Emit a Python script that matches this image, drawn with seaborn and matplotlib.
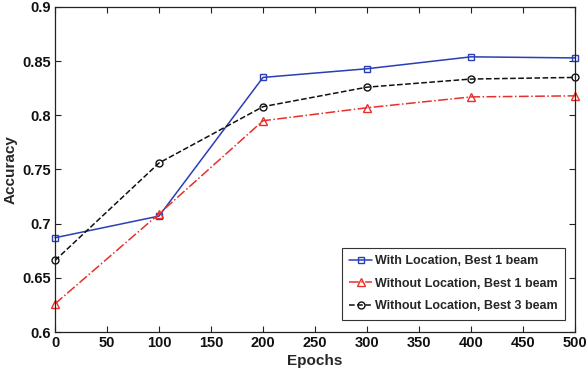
import matplotlib
matplotlib.use("Agg")
import matplotlib.pyplot as plt
import seaborn as sns
import pandas as pd

epochs = [0, 100, 200, 300, 400, 500]
with_loc_best1 = [0.687, 0.707, 0.835, 0.843, 0.854, 0.853]
without_loc_best1 = [0.626, 0.709, 0.795, 0.807, 0.817, 0.818]
without_loc_best3 = [0.666, 0.756, 0.808, 0.826, 0.8335, 0.835]
series_names = ["With Location, Best 1 beam",
                "Without Location, Best 1 beam",
                "Without Location, Best 3 beam"]

sns.set_style("ticks")
plt.rcParams['font.family'] = ['Liberation Sans', 'DejaVu Sans']
plt.rcParams['font.weight'] = 'bold'

fig = plt.figure(figsize=(5.86, 3.76), dpi=100)
ax = fig.add_axes([55/586, 1-332/376, 520/586, 325/376])

styles = [
    dict(color="#2a3fb5", marker="s", linestyle="-", ms=4.0),
    dict(color="#e8302a", marker="^", linestyle="-.", ms=5.5),
    dict(color="#111111", marker="o", linestyle="--", ms=5.0),
]
data = [with_loc_best1, without_loc_best1, without_loc_best3]
for name, vals, st in zip(series_names, data, styles):
    df = pd.DataFrame({"Epochs": epochs, "Accuracy": vals})
    sns.lineplot(data=df, x="Epochs", y="Accuracy", ax=ax, label=name,
                 color=st["color"], marker=st["marker"], linestyle=st["linestyle"],
                 markersize=st["ms"], markerfacecolor="none", markeredgecolor=st["color"],
                 markeredgewidth=1.0, linewidth=1.1, clip_on=False)

ax.set_xlim(0, 500)
ax.set_ylim(0.6, 0.9)
ax.set_xticks([0, 50, 100, 150, 200, 250, 300, 350, 400, 450, 500])
ax.set_yticks([0.6, 0.65, 0.7, 0.75, 0.8, 0.85, 0.9])
ax.set_yticklabels(["0.6", "0.65", "0.7", "0.75", "0.8", "0.85", "0.9"])
ax.tick_params(direction="in", top=True, right=True, length=4, width=0.8,
               labelsize=10.5, pad=3, colors="#222222", labelcolor="#111111")
for lab in ax.get_xticklabels() + ax.get_yticklabels():
    lab.set_fontweight("bold")
for s in ax.spines.values():
    s.set_linewidth(0.9)
    s.set_color("#222222")
ax.set_xlabel("Epochs", fontsize=11, fontweight="bold", labelpad=3)
ax.set_ylabel("Accuracy", fontsize=11, fontweight="bold", labelpad=3)

leg = ax.legend(loc="lower right", bbox_to_anchor=(0.981, 0.037), fancybox=False,
                framealpha=1, edgecolor="#333333",
                handlelength=1.85, handletextpad=0.2, borderpad=0.6,
                borderaxespad=0, labelspacing=0.85,
                prop={"weight": "bold", "size": 9})
leg.get_frame().set_linewidth(0.8)

fig.savefig("out.png", dpi=100)
